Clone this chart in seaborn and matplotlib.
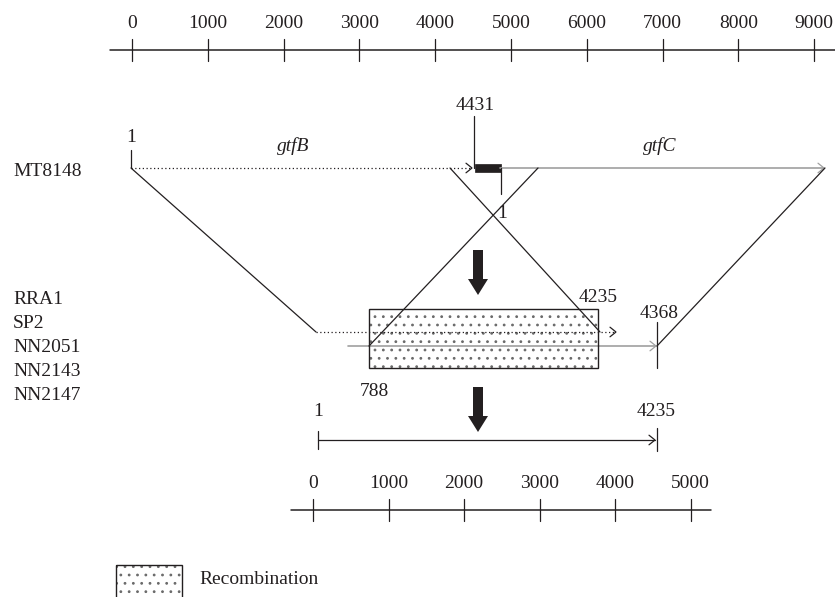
import matplotlib
matplotlib.use("Agg")
import matplotlib.pyplot as plt
from matplotlib.patches import Rectangle, FancyArrow
import numpy as np
import pandas as pd
import seaborn as sns

# ---------------- data ----------------
top_ticks = [0, 1000, 2000, 3000, 4000, 5000, 6000, 7000, 8000, 9000]
bottom_ticks = [0, 1000, 2000, 3000, 4000, 5000]
parent_strain = ["MT8148"]
recombinant_strains = ["RRA1", "SP2", "NN2051", "NN2143", "NN2147"]
gene_names = ["gtfB", "gtfC"]
gtfB_start, gtfB_end = 1, 4431
gtfC_start = 1
recomb_start, recomb_end = 788, 4235
gtfC_end = 4368
hybrid_start, hybrid_end = 1, 4235
legend_label = "Recombination"

# ---------------- style ----------------
sns.set_theme(style="white")
plt.rcParams["font.family"] = ["Liberation Serif", "DejaVu Serif"]
plt.rcParams["hatch.linewidth"] = 0.8
INK = "#231f20"
GREY = "#a0a0a0"
DOT = "#6a6a6a"
FS = 14
LW = 0.9

fig = plt.figure(figsize=(8.35, 5.97), dpi=100)
ax = fig.add_axes([0, 0, 1, 1])
ax.set_xlim(0, 835)
ax.set_ylim(597, 0)
ax.axis("off")


def scale(ax, ticks, x0, px_per_1000, y, xmin, xmax):
    xs = [x0 + t / 1000.0 * px_per_1000 for t in ticks]
    sns.lineplot(x=[xmin, xmax], y=[y, y], ax=ax, color=INK, lw=1.1,
                 estimator=None, sort=False)
    for t, x in zip(ticks, xs):
        ax.plot([x, x], [y - 11, y + 11], color=INK, lw=LW)
        ax.text(x, y - 27, f"{t}", ha="center", va="center", fontsize=FS, color=INK)


def chevron(ax, x, y, color, size=6):
    ax.plot([x - size, x, x - size], [y - size * 0.8, y, y + size * 0.8],
            color=color, lw=LW, solid_joinstyle="miter")


def dotted_box(ax, x, y, w, h, lw=1.0):
    ax.add_patch(Rectangle((x, y), w, h, facecolor="white", edgecolor=DOT,
                           hatch="..", lw=0, zorder=1))
    ax.add_patch(Rectangle((x, y), w, h, facecolor="none", edgecolor=INK,
                           lw=lw, zorder=3))


# top scale
scale(ax, top_ticks, 132, 75.8, 50, 110, 835)

# MT8148 row
ax.text(13, 172, parent_strain[0], ha="left", va="center", fontsize=FS, color=INK)
ax.text(131, 138, f"{gtfB_start}", ha="center", va="center", fontsize=FS, color=INK)
ax.plot([131, 131], [150, 168], color=INK, lw=LW)
ax.plot([131, 472], [168, 168], color=INK, lw=LW, ls=(0, (1, 2)))
chevron(ax, 472, 168, INK)
ax.plot([500, 824], [168, 168], color=GREY, lw=1.2)
chevron(ax, 824, 168, GREY)
ax.text(293, 146, gene_names[0], ha="center", va="center", fontsize=FS,
        style="italic", color=INK)
ax.text(660, 146, gene_names[1], ha="center", va="center", fontsize=FS,
        style="italic", color=INK)
ax.text(475, 105, f"{gtfB_end}", ha="center", va="center", fontsize=FS, color=INK)
ax.plot([474, 474], [116, 168], color=INK, lw=LW)
ax.add_patch(Rectangle((475, 164), 26, 8, facecolor=INK, edgecolor=INK, lw=0.5))
ax.plot([501, 501], [168, 194], color=INK, lw=LW)
ax.text(502, 213, f"{gtfC_start}", ha="center", va="center", fontsize=FS, color=INK)

# crossing lines
ax.plot([131, 316], [168, 332], color=INK, lw=LW, zorder=4)
ax.plot([450, 600], [168, 332], color=INK, lw=LW, zorder=4)
ax.plot([538, 369], [168, 346], color=INK, lw=LW, zorder=4)
ax.plot([825, 657], [168, 346], color=INK, lw=LW, zorder=4)

# big arrows
for yy in (250, 387):
    ax.add_patch(FancyArrow(478, yy, 0, 45, width=10, head_width=20,
                            head_length=16, length_includes_head=True,
                            color=INK, lw=0))

# recombinant strains
for i, s in enumerate(recombinant_strains):
    ax.text(13, 300 + 24 * i, s, ha="left", va="center", fontsize=FS, color=INK)

dotted_box(ax, 369, 309, 229, 59)
ax.plot([316, 616], [332, 332], color=INK, lw=LW, ls=(0, (1, 2)), zorder=2)
chevron(ax, 616, 332, INK)
ax.plot([348, 656], [346, 346], color=GREY, lw=1.2, zorder=2)
chevron(ax, 656, 346, GREY)
ax.plot([657, 657], [322, 368], color=INK, lw=LW)
ax.text(598, 298, f"{recomb_end}", ha="center", va="center", fontsize=FS, color=INK)
ax.text(659, 313, f"{gtfC_end}", ha="center", va="center", fontsize=FS, color=INK)
ax.text(374, 392, f"{recomb_start}", ha="center", va="center", fontsize=FS, color=INK)

# hybrid gene
ax.text(318, 411, f"{hybrid_start}", ha="center", va="center", fontsize=FS, color=INK)
ax.text(656, 411, f"{hybrid_end}", ha="center", va="center", fontsize=FS, color=INK)
ax.plot([318, 318], [431, 449], color=INK, lw=LW)
ax.plot([318, 655], [440, 440], color=INK, lw=LW)
chevron(ax, 655, 440, INK)
ax.plot([657, 657], [428, 451], color=INK, lw=LW)

# bottom scale
scale(ax, bottom_ticks, 313, 75.5, 510, 291, 711)

# legend
dotted_box(ax, 116, 565, 66, 40)
ax.text(199, 579, legend_label, ha="left", va="center", fontsize=FS, color=INK)

fig.savefig("out.png", dpi=100)
